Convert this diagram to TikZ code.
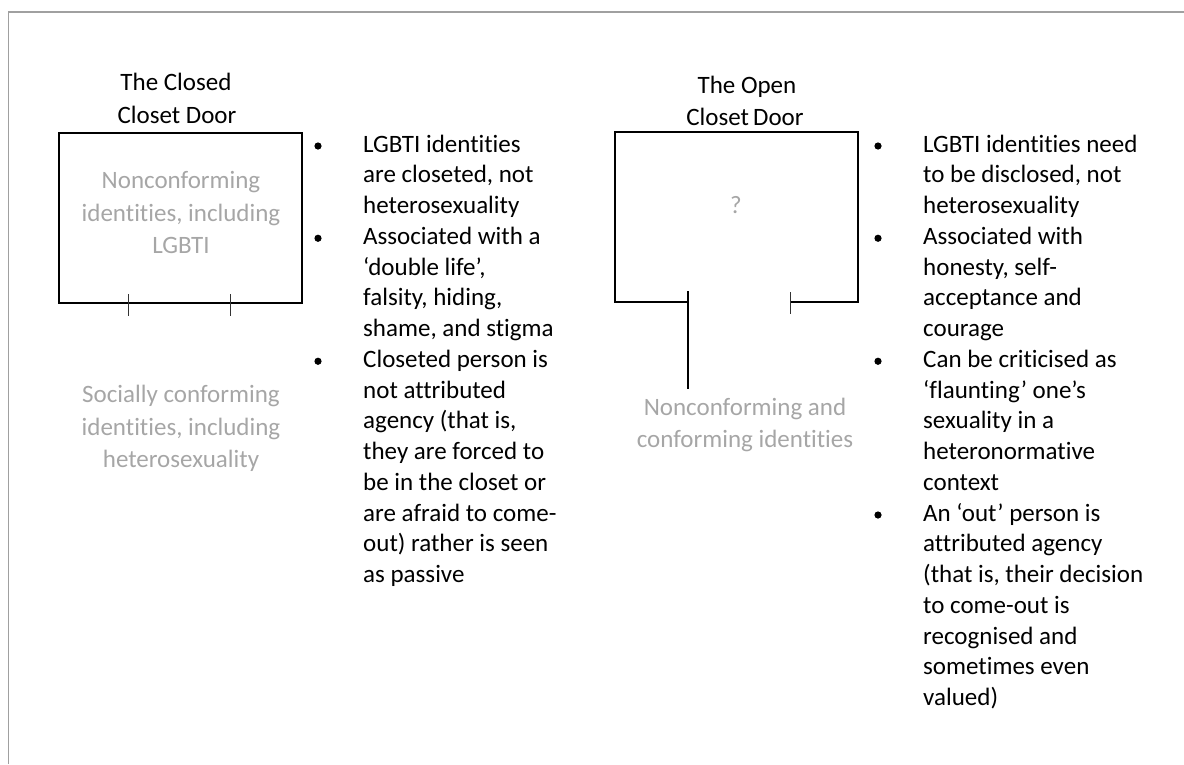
\documentclass[tikz,border=0pt]{standalone}
\usepackage{fontspec}
\setmainfont{Carlito}[Ligatures={NoCommon,NoRequired,NoContextual}]
\definecolor{framegray}{RGB}{160,160,160}
\definecolor{softgray}{RGB}{166,166,166}
\tikzset{
  body/.style={anchor=base west, inner sep=0pt, font=\fontsize{25}{30.7}\selectfont, text=black},
  graytext/.style={anchor=base, inner sep=0pt, font=\fontsize{25}{30.7}\selectfont, text=softgray},
  title/.style={anchor=base, inner sep=0pt, font=\fontsize{25}{30.7}\selectfont, text=black},
  doorline/.style={draw=black, line width=1.8pt},
  tick/.style={draw=black!80, line width=0.9pt},
  bulletdot/.style={fill=black, draw=none}
}
\begin{document}
\begin{tikzpicture}[x=1pt, y=-1pt]
\useasboundingbox (0,0) rectangle (1184,764);
% frame
\draw[framegray, line width=1.3pt] (8.5,764) -- (8.5,12) -- (1184,12);

% ---------- Closed closet door ----------
\node[title] (ct1) at (176,90) {The Closed};
\node[title] (ct2) at (177,123) {Closet Door};
\draw[doorline] (59,133) rectangle (302,303);
\draw[tick] (128,294) -- (128,316);
\draw[tick] (230,294) -- (230,316);
\node[graytext] (cin1) at (181,188) {Nonconforming};
\node[graytext] (cin2) at (181,221) {identities, including};
\node[graytext] (cin3) at (181,253) {LGBTI};
\node[graytext] (cout1) at (181,402) {Socially conforming};
\node[graytext] (cout2) at (181,435) {identities, including};
\node[graytext] (cout3) at (181,467) {heterosexuality};

% left bullets
\foreach \t [count=\i] in {
  {LGBTI identities},
  {are closeted, not},
  {heterosexuality},
  {Associated with a},
  {‘double life’,},
  {falsity, hiding,},
  {shame, and stigma},
  {Closeted person is},
  {not attributed},
  {agency (that is,},
  {they are forced to},
  {be in the closet or},
  {are afraid to come-},
  {out) rather is seen},
  {as passive}}
  \node[body] (L\i) at (363,{152+30.75*(\i-1)}) {\t};
\foreach \i in {1,4,8}
  \fill[bulletdot] (318,{146+30.75*(\i-1)}) circle (3.6);

% ---------- Open closet door ----------
\node[title] (ot1) at (747,93) {The Open};
\node[title] (ot2) at (745,125) {Closet\,Door};
\draw[doorline] (688,302) -- (615,302) -- (615,132) -- (858,132) -- (858,302) -- (790,302);
\draw[doorline] (688,291) -- (688,389);
\draw[tick] (790,292) -- (790,314);
\node[graytext] (q) at (736,213) {?};
\node[graytext] (oout1) at (745,415) {Nonconforming and};
\node[graytext] (oout2) at (745,447) {conforming identities};

% right bullets
\foreach \t [count=\i] in {
  {LGBTI identities need},
  {to be disclosed, not},
  {heterosexuality},
  {Associated with},
  {honesty, self-},
  {acceptance and},
  {courage},
  {Can be criticised as},
  {‘flaunting’ one’s},
  {sexuality in a},
  {heteronormative},
  {context},
  {An ‘out’ person is},
  {attributed agency},
  {(that is, their decision},
  {to come-out is},
  {recognised and},
  {sometimes even},
  {valued)}}
  \node[body] (R\i) at (923,{152+30.75*(\i-1)}) {\t};
\foreach \i in {1,4,8,13}
  \fill[bulletdot] (878,{146+30.75*(\i-1)}) circle (3.6);
\end{tikzpicture}
\end{document}
